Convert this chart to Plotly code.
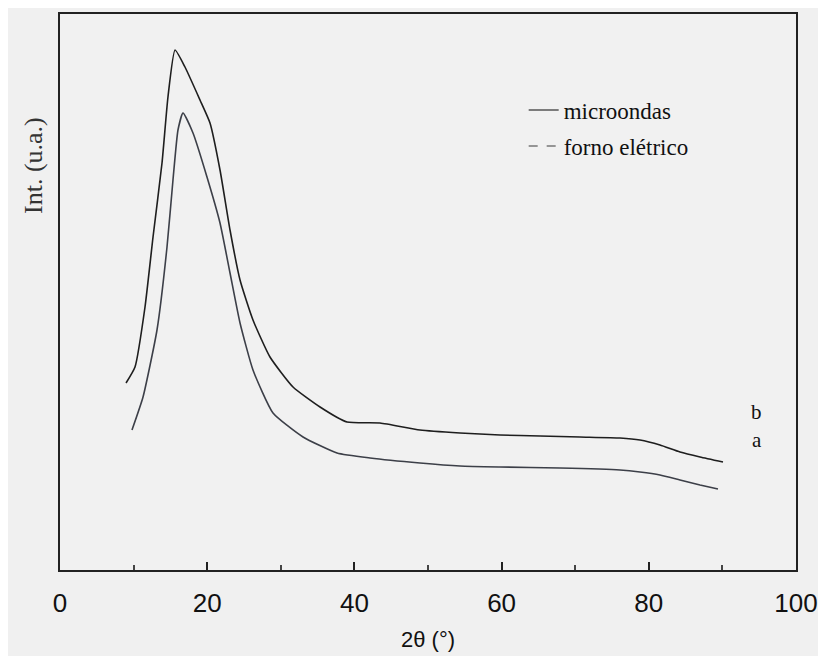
import plotly.graph_objects as go

# Curve b (upper) - microondas
theta_b = [8.97, 10.19, 11.55, 12.64, 13.86, 14.67, 15.63, 16.98, 19.02, 20.38, 21.74, 23.10,
           24.46, 26.22, 28.53, 31.66, 35.33, 38.99, 43.48, 48.91, 54.35, 59.78, 65.22, 70.65,
           76.09, 78.80, 81.52, 84.24, 86.96, 90.08]
int_b = [187, 203, 263, 333, 407, 473, 520, 503, 470, 447, 400, 340,
         290, 250, 213, 183, 163, 148, 147, 140, 137, 135, 134, 133,
         132, 130, 125, 118, 113, 108]

# Curve a (lower) - forno elétrico
theta_a = [9.78, 11.28, 13.18, 14.54, 15.35, 16.03, 16.71, 18.07, 19.97, 21.74, 23.10, 24.46,
           26.22, 28.94, 33.02, 37.64, 42.12, 48.91, 54.35, 59.78, 67.93, 76.09, 78.80, 81.52,
           84.24, 86.96, 89.40]
int_a = [140, 173, 240, 323, 390, 440, 457, 437, 393, 347, 297, 247,
         200, 157, 133, 117, 112, 107, 104, 103, 102, 100, 98, 95,
         90, 85, 81]

x_ticks = [0, 20, 40, 60, 80, 100]
legend_names = ["microondas", "forno elétrico"]
curve_labels = ["b", "a"]

serif = "Liberation Serif, Times New Roman, serif"
sans = "Liberation Sans, Arial, sans-serif"

fig = go.Figure()
fig.add_trace(go.Scatter(x=theta_b, y=int_b, mode="lines", showlegend=False,
                         line=dict(color="#1e1e1e", width=1.6, shape="spline", smoothing=0.5)))
fig.add_trace(go.Scatter(x=theta_a, y=int_a, mode="lines", showlegend=False,
                         line=dict(color="#3c3f48", width=1.6, shape="spline", smoothing=0.5)))
# legend-only entries
fig.add_trace(go.Scatter(x=[None], y=[None], mode="lines", name=legend_names[0],
                         line=dict(color="#555", width=1.5), legend="legend"))
fig.add_trace(go.Scatter(x=[None], y=[None], mode="lines", name=legend_names[1],
                         line=dict(color="#777", width=1.5, dash="dash"), legend="legend2"))

fig.add_annotation(x=94.7, y=int_b[-1] + 50, text=curve_labels[0], showarrow=False,
                   font=dict(family=serif, size=21, color="#111"))
fig.add_annotation(x=94.7, y=int_a[-1] + 49, text=curve_labels[1], showarrow=False,
                   font=dict(family=serif, size=21, color="#111"))

fig.add_annotation(xref="paper", yref="paper", x=-0.037, y=0.728, text="Int. (u.a.)",
                   textangle=-90, showarrow=False, xanchor="center", yanchor="middle",
                   font=dict(family=serif, size=26, color="#333"))

leg_common = dict(xanchor="left", yanchor="middle", bgcolor="rgba(0,0,0,0)",
                  font=dict(family=serif, size=23, color="#111"), itemwidth=30)

fig.update_layout(
    width=826, height=656,
    margin=dict(l=52, r=38, t=6, b=94, autoexpand=False),
    paper_bgcolor="#f0f0f0", plot_bgcolor="#f1f1f1",
    legend=dict(x=0.63, y=(570 - 110) / 556, **leg_common),
    legend2=dict(x=0.63, y=(570 - 146) / 556, **leg_common),
    xaxis=dict(range=[0, 100], tickvals=x_ticks, ticks="inside", ticklen=8, tickwidth=1.5,
               tickcolor="#222", showline=True, linecolor="#222", linewidth=2, mirror=True,
               showgrid=False, zeroline=False, automargin=False,
               minor=dict(dtick=10, ticks="inside", ticklen=5, tickcolor="#444"),
               tickfont=dict(family=sans, size=26, color="#111"), ticklabelstandoff=9,
               title=dict(text="2θ (°)", font=dict(family=sans, size=22, color="#111"), standoff=14)),
    yaxis=dict(range=[0, 556], showticklabels=False, ticks="", showline=True, linecolor="#222",
               linewidth=2, mirror=True, showgrid=False, zeroline=False, automargin=False),
)

fig.write_html("out.html")
